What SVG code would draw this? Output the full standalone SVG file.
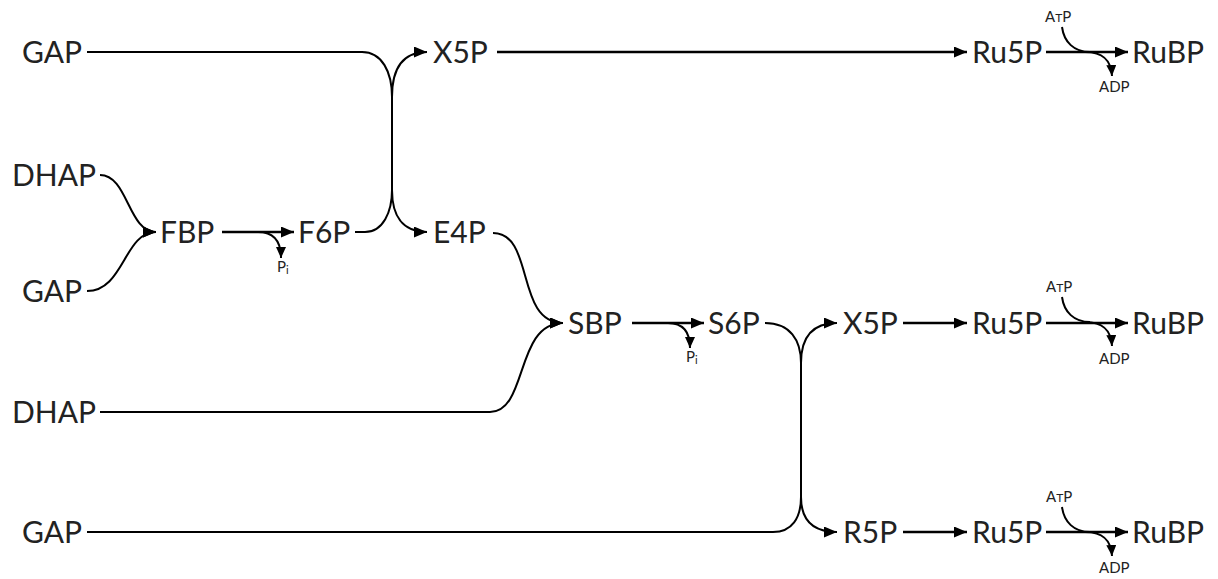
<svg xmlns="http://www.w3.org/2000/svg" width="1218" height="579" viewBox="0 0 1218 579">
  <style>
    .lbl { font-family: Lato, "Open Sans", "Liberation Sans", sans-serif; font-size: 30px; fill: #222; }
    .sm { font-family: Lato, "Open Sans", "Liberation Sans", sans-serif; font-size: 15px; fill: #222; }
    .ln { fill: none; stroke: #000; stroke-width: 2; }
    .rx { fill: none; stroke: #000; stroke-width: 2.6; }
    .arr { marker-end: url(#head); }
    .sarr { marker-end: url(#small); }
  </style>
  <defs>
    <marker id="head" markerUnits="userSpaceOnUse" markerWidth="14" markerHeight="12" refX="13" refY="5.5" orient="auto">
      <path d="M0,0 L13,5.5 L0,11 Z" fill="#000"/>
    </marker>
    <marker id="small" markerUnits="userSpaceOnUse" markerWidth="12" markerHeight="11" refX="11" refY="5" orient="auto">
      <path d="M0,0 L11,5 L0,10 Z" fill="#000"/>
    </marker>
  </defs>

  <g id="connectors">
    <!-- top crossing: GAP -> E4P, F6P -> X5P -->
    <path class="ln arr" d="M87,52 H362 C382,52 392,72 392,97 V190 C392,215 402,232 427,232"/>
    <path class="ln arr" d="M355,232 H365 C383,232 392,212 392,190 V97 C392,70 402,52 427,52"/>
    <!-- into FBP -->
    <path class="ln arr" d="M100,175 C128,175 128,232 156,232"/>
    <path class="ln arr" d="M87,291 C124,291 124,232 156,232"/>
    <!-- into SBP -->
    <path class="ln arr" d="M493,233 C535,233 515,323 563,323"/>
    <path class="ln arr" d="M100,412 H490 C528,412 515,323 563,323"/>
    <!-- bottom crossing: S6P -> R5P, GAP -> X5P -->
    <path class="ln arr" d="M765,323 C790,323 801,340 801,363 V497 C801,520 812,532 837,532"/>
    <path class="ln arr" d="M87,532 H773 C792,532 801,518 801,497 V363 C801,338 812,323 837,323"/>
    <!-- straight reactions -->
    <path class="rx arr" d="M497,52 H967"/>
    <path class="rx arr" d="M222,232 H294"/>
    <path class="rx arr" d="M632,323 H704"/>
    <path class="rx arr" d="M903,323 H967"/>
    <path class="rx arr" d="M903,532 H967"/>
    <path class="rx arr" d="M1046,52 H1128"/>
    <path class="rx arr" d="M1046,323 H1128"/>
    <path class="rx arr" d="M1046,532 H1128"/>
    <!-- phosphate release -->
    <path class="ln sarr" d="M258,232 C275,232 281,242 281,258"/>
    <path class="ln sarr" d="M668,323 C684,323 690,333 690,348"/>
    <!-- ATP in, ADP out -->
    <path class="ln" d="M1062,27 C1064,42 1074,52 1090,52"/>
    <path class="ln sarr" d="M1085,52 C1103,52 1111,60 1112,76"/>
    <path class="ln" d="M1062,297 C1064,312 1074,322 1090,322"/>
    <path class="ln sarr" d="M1085,322 C1103,322 1111,330 1112,346"/>
    <path class="ln" d="M1062,507 C1064,522 1074,532 1090,532"/>
    <path class="ln sarr" d="M1085,532 C1103,532 1111,540 1112,556"/>
  </g>

  <g id="gap1"><text class="lbl" x="22" y="63">GAP</text></g>
  <g id="x5p1"><text class="lbl" x="433" y="63">X5P</text></g>
  <g id="ru5p1"><text class="lbl" x="972" y="63">Ru5P</text></g>
  <g id="rubp1"><text class="lbl" x="1132" y="63">RuBP</text></g>
  <g id="atp1"><text class="sm" x="1045" y="22">A<tspan font-size="12">T</tspan>P</text></g>
  <g id="adp1"><text class="sm" x="1099" y="92">ADP</text></g>

  <g id="dhap1"><text class="lbl" x="12" y="186">DHAP</text></g>
  <g id="fbp"><text class="lbl" x="160" y="243">FBP</text></g>
  <g id="f6p"><text class="lbl" x="298" y="243">F6P</text></g>
  <g id="e4p"><text class="lbl" x="433" y="243">E4P</text></g>
  <g id="pi1"><text class="sm" x="277" y="272">P<tspan font-size="11" dy="2">i</tspan></text></g>
  <g id="gap2"><text class="lbl" x="22" y="302">GAP</text></g>

  <g id="sbp"><text class="lbl" x="568" y="334">SBP</text></g>
  <g id="s6p"><text class="lbl" x="708" y="334">S6P</text></g>
  <g id="pi2"><text class="sm" x="686" y="362">P<tspan font-size="11" dy="2">i</tspan></text></g>
  <g id="x5p2"><text class="lbl" x="843" y="334">X5P</text></g>
  <g id="ru5p2"><text class="lbl" x="972" y="334">Ru5P</text></g>
  <g id="rubp2"><text class="lbl" x="1132" y="334">RuBP</text></g>
  <g id="atp2"><text class="sm" x="1046" y="292">A<tspan font-size="12">T</tspan>P</text></g>
  <g id="adp2"><text class="sm" x="1099" y="364">ADP</text></g>

  <g id="dhap2"><text class="lbl" x="12" y="423">DHAP</text></g>

  <g id="gap3"><text class="lbl" x="22" y="543">GAP</text></g>
  <g id="r5p"><text class="lbl" x="843" y="543">R5P</text></g>
  <g id="ru5p3"><text class="lbl" x="972" y="543">Ru5P</text></g>
  <g id="rubp3"><text class="lbl" x="1132" y="543">RuBP</text></g>
  <g id="atp3"><text class="sm" x="1046" y="502">A<tspan font-size="12">T</tspan>P</text></g>
  <g id="adp3"><text class="sm" x="1099" y="573">ADP</text></g>
</svg>
